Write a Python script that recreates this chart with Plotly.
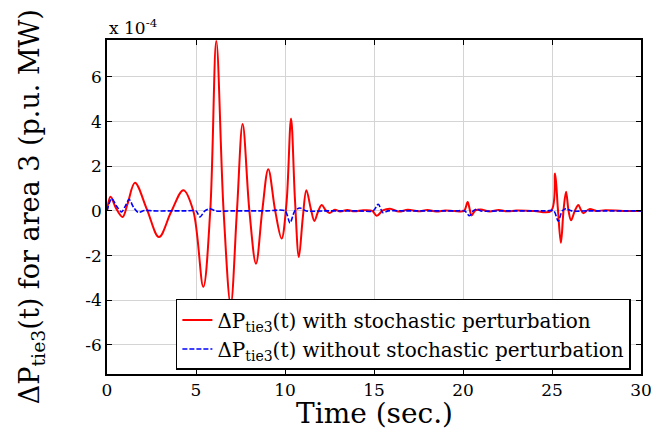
import plotly.graph_objects as go

# Time (s) and values (x 1e-4 p.u. MW)
t_with = [0, 0.2, 0.52, 0.88, 1.15, 1.57, 2.25, 2.92, 3.6, 4.29, 4.85, 5.41, 5.8, 6.14, 6.55,
          6.95, 7.3, 7.62, 8.0, 8.37, 8.72, 9.06, 9.45, 9.81, 10.08, 10.34, 10.56, 10.78, 11.0,
          11.2, 11.45, 11.65, 11.85, 12.06, 12.3, 12.5, 12.8, 13.1, 13.5, 13.9, 14.4, 14.9,
          15.15, 15.5, 15.9, 16.4, 16.9, 17.5, 18.0, 18.5, 19.0, 19.5, 20.05, 20.26, 20.37,
          20.48, 20.7, 21.0, 21.5, 22.0, 22.5, 23.0, 24.0, 24.95, 25.17, 25.33, 25.5, 25.65,
          25.79, 25.93, 26.07, 26.28, 26.48, 26.62, 26.76, 27.1, 27.5, 28.0, 29.0, 30.0]
y_with = [0, 0.63, 0.1, -0.27, 0.3, 1.26, 0.05, -1.17, -0.05, 0.93, 0.0, -3.4, 0.0, 7.6, 0.0,
          -4.2, 0.0, 3.89, 0.0, -2.36, 0.0, 1.87, 0.0, -1.24, 0.3, 4.14, 0.5, -2.06, -0.3,
          0.93, 0.1, -0.45, -0.05, 0.26, 0.02, -0.09, 0.05, -0.03, 0.04, -0.02, 0.03, 0.0,
          -0.22, 0.02, 0.1, -0.03, 0.05, -0.02, 0.04, -0.03, 0.02, 0.0, 0.0, 0.4, 0.1,
          -0.2, 0.02, 0.06, -0.03, 0.04, -0.02, 0.02, 0.0, 0.0, 1.68, 0.1, -1.43, 0.05,
          0.86, 0.0, -0.42, 0.0, 0.27, 0.05, -0.1, 0.08, 0.0, 0.03, 0.0, 0.0]

t_without = [0, 0.26, 0.55, 0.82, 1.05, 1.24, 1.5, 1.76, 2.1, 2.6, 3.5, 4.4, 5.0, 5.22, 5.5,
             5.79, 6.1, 7.0, 8.0, 9.0, 10.0, 10.28, 10.55, 10.84, 11.2, 12.2, 13.2, 14.2,
             14.95, 15.24, 15.5, 15.8, 16.8, 17.8, 18.8, 19.6, 20.1, 20.36, 20.57, 20.77,
             21.0, 22.0, 23.0, 24.0, 24.6, 25.1, 25.35, 25.57, 25.79, 26.1, 27.0, 28.0, 29.0, 30.0]
y_without = [0, 0.55, 0.2, -0.05, 0.25, 0.52, 0.15, -0.07, 0.02, 0.0, 0.0, 0.0, 0.0, -0.27, 0.0,
             0.1, 0.0, 0.0, 0.0, 0.0, 0.0, -0.54, 0.0, 0.13, 0.0, 0.0, 0.0, 0.0,
             0.0, 0.3, -0.08, 0.0, 0.0, 0.0, 0.0, 0.0, 0.0, -0.22, 0.0, 0.08,
             0.0, 0.0, 0.0, 0.0, 0.0, 0.0, -0.46, 0.0, 0.1, 0.0, 0.0, 0.0, 0.0, 0.0]

x_ticks = [0, 5, 10, 15, 20, 25, 30]
y_ticks = [-6, -4, -2, 0, 2, 4, 6]

name_with = "ΔP<sub>tie3</sub>(t) with stochastic perturbation"
name_without = "ΔP<sub>tie3</sub>(t) without stochastic perturbation"

FONT = "DejaVu Serif"

fig = go.Figure()
fig.add_trace(go.Scatter(x=t_with, y=y_with, mode="lines", name=name_with,
                         line=dict(color="#ff0000", width=2, shape="spline", smoothing=1.0)))
fig.add_trace(go.Scatter(x=t_without, y=y_without, mode="lines", name=name_without,
                         line=dict(color="#0000ff", width=1.6, dash="5px,2px",
                                   shape="spline", smoothing=0.8)))

axis_common = dict(showline=True, linecolor="black", linewidth=1.5, mirror="ticks",
                   ticks="inside", ticklen=5, tickcolor="black", tickwidth=1.2,
                   showgrid=True, gridcolor="#d4d4d4", gridwidth=1, zeroline=False,
                   automargin=False, ticklabeloverflow="allow",
                   tickfont=dict(family=FONT, size=17, color="black"))

fig.update_xaxes(range=[0, 30], tickvals=x_ticks, ticktext=[str(v) for v in x_ticks],
                 **axis_common)
fig.update_yaxes(range=[-7.3, 7.65], tickvals=y_ticks, ticktext=[str(v) for v in y_ticks],
                 **axis_common)

fig.add_annotation(text="Time (sec.)", xref="paper", yref="paper", x=0.5, y=-0.118,
                   xanchor="center", yanchor="middle", showarrow=False,
                   font=dict(family=FONT, size=28, color="black"))
fig.add_annotation(text="ΔP<sub>tie3</sub>(t) for area 3 (p.u. MW)", textangle=-90,
                   xref="paper", yref="paper", x=-0.142, y=0.5, xanchor="center", yanchor="middle",
                   showarrow=False, font=dict(family=FONT, size=27, color="black"))
fig.add_annotation(text="x 10<sup>-4</sup>", xref="paper", yref="paper", x=0.0, y=1.0,
                   xanchor="left", yanchor="bottom", showarrow=False,
                   font=dict(family=FONT, size=17, color="black"))

fig.update_layout(
    width=651, height=428,
    margin=dict(l=107, r=10, t=40, b=54, autoexpand=False),
    paper_bgcolor="white", plot_bgcolor="white",
    showlegend=True,
    legend=dict(x=0.129, y=0.012, xanchor="left", yanchor="bottom",
                bordercolor="black", borderwidth=1.5, bgcolor="white",
                font=dict(family=FONT, size=20, color="black"),
                tracegroupgap=0, itemwidth=30),
)

# remove the default 8px page margin so the figure fills the window exactly
fig.write_html("out.html", config={"displayModeBar": False},
               post_script="document.body.style.margin='0';document.body.style.overflow='hidden';")
